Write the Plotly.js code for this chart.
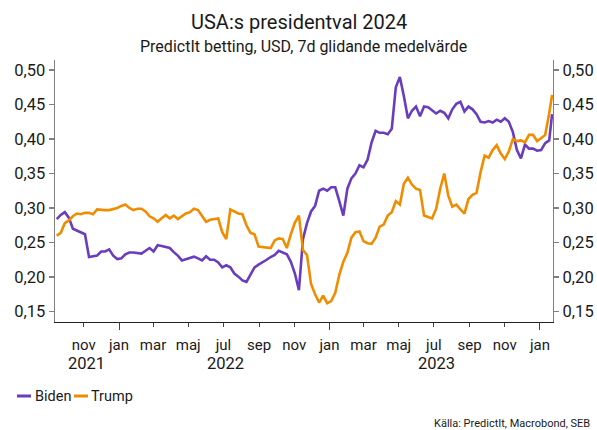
<!DOCTYPE html>
<html>
<head>
<meta charset="utf-8">
<script src="https://cdn.plot.ly/plotly-3.0.1.min.js"></script>
<style>
  html, body { margin: 0; padding: 0; background: #fff; }
  #chart { width: 597px; height: 430px; }
</style>
</head>
<body>
<div id="chart"></div>
<script>
// ---- Data (weekly readings of the 7-day moving average) ----
const firstDate = '2021-09-15';
const lastDate = '2024-01-22';

const biden = [
  0.284, 0.290, 0.294, 0.286, 0.270, 0.267, 0.265, 0.262, 0.229, 0.230,
  0.231, 0.237, 0.237, 0.240, 0.231, 0.226, 0.227, 0.233, 0.2355, 0.2356,
  0.235, 0.234, 0.238, 0.242, 0.237, 0.246, 0.245, 0.244, 0.242, 0.236,
  0.231, 0.224, 0.226, 0.228, 0.2295, 0.227, 0.224, 0.230, 0.225, 0.225,
  0.221, 0.214, 0.217, 0.214, 0.205, 0.2005, 0.195, 0.193, 0.204, 0.214,
  0.218, 0.221, 0.225, 0.229, 0.232, 0.238, 0.236, 0.233, 0.222, 0.205,
  0.181, 0.255, 0.278, 0.295, 0.303, 0.325, 0.328, 0.325, 0.330, 0.330,
  0.310, 0.289, 0.328, 0.343, 0.350, 0.362, 0.359, 0.370, 0.395, 0.412,
  0.409, 0.409, 0.407, 0.415, 0.475, 0.490, 0.462, 0.430, 0.441, 0.447,
  0.433, 0.447, 0.446, 0.441, 0.437, 0.441, 0.438, 0.430, 0.443, 0.451,
  0.454, 0.440, 0.447, 0.443, 0.436, 0.425, 0.424, 0.426, 0.424, 0.428,
  0.425, 0.430, 0.425, 0.410, 0.384, 0.372, 0.392, 0.386, 0.386, 0.383,
  0.384, 0.394, 0.398, 0.436
];

const trump = [
  0.260, 0.264, 0.278, 0.282, 0.288, 0.292, 0.291, 0.293, 0.293, 0.291,
  0.298, 0.297, 0.297, 0.297, 0.298, 0.300, 0.303, 0.305, 0.300, 0.297,
  0.299, 0.299, 0.295, 0.288, 0.285, 0.280, 0.285, 0.290, 0.285, 0.289,
  0.284, 0.288, 0.292, 0.294, 0.299, 0.297, 0.289, 0.280, 0.283, 0.284,
  0.285, 0.265, 0.255, 0.298, 0.295, 0.292, 0.291, 0.275, 0.264, 0.262,
  0.244, 0.243, 0.242, 0.242, 0.253, 0.256, 0.255, 0.242, 0.262, 0.279,
  0.289, 0.239, 0.232, 0.190, 0.175, 0.163, 0.173, 0.162, 0.165, 0.177,
  0.203, 0.222, 0.235, 0.257, 0.265, 0.266, 0.252, 0.249, 0.248, 0.257,
  0.273, 0.276, 0.289, 0.294, 0.310, 0.305, 0.335, 0.344, 0.334, 0.328,
  0.326, 0.289, 0.287, 0.285, 0.299, 0.328, 0.350, 0.318, 0.302, 0.305,
  0.298, 0.292, 0.313, 0.319, 0.322, 0.352, 0.376, 0.373, 0.384, 0.391,
  0.379, 0.371, 0.382, 0.400, 0.397, 0.398, 0.395, 0.406, 0.406, 0.397,
  0.401, 0.406, 0.437, 0.464
];

const monthTickVals = ['2021-11-01','2022-01-01','2022-03-01','2022-05-01','2022-07-01','2022-09-01',
                       '2022-11-01','2023-01-01','2023-03-01','2023-05-01','2023-07-01','2023-09-01',
                       '2023-11-01','2024-01-01'];
const monthTickText = ['nov','jan','mar','maj','jul','sep','nov','jan','mar','maj','jul','sep','nov','jan'];
const yearTickVals = ['2022-01-01','2023-01-01','2024-01-01'];
const yearLabels = ['2021','2022','2023'];
const yearLabelPos = ['2021-11-05','2022-07-05','2023-07-05'];
const yTickVals = [0.15, 0.20, 0.25, 0.30, 0.35, 0.40, 0.45, 0.50];

const seriesNames = ['Biden', 'Trump'];
const colors = ['#6A3DBE', '#F08C00'];

// weekly date axis for the readings (last reading on lastDate)
const dates = [];
{
  const d0 = new Date(firstDate + 'T00:00:00Z');
  for (let i = 0; i < biden.length - 1; i++) {
    const d = new Date(d0.getTime() + i * 7 * 86400000);
    dates.push(d.toISOString().slice(0, 10));
  }
  dates.push(lastDate);
}

// ---- Layout geometry ----
const W = 597, H = 430;
const M = {l: 55, r: 44, t: 60, b: 108};
const PW = W - M.l - M.r, PH = H - M.t - M.b;
const px = x => (x - M.l) / PW;
const py = y => (H - M.b - y) / PH;

const FONT = 'Roboto, "Noto Sans", Arial, sans-serif';
const TXT = '#1a1a1a';
const xRange = ['2021-09-12', '2024-01-23 14:00'];
const yRange = [0.1348, 0.5145];

const traces = [
  {x: dates, y: biden, name: seriesNames[0], type: 'scatter', mode: 'lines',
   line: {color: colors[0], width: 2.6}, xaxis: 'x', yaxis: 'y'},
  {x: dates, y: trump, name: seriesNames[1], type: 'scatter', mode: 'lines',
   line: {color: colors[1], width: 2.6}, xaxis: 'x2', yaxis: 'y2'}
];

const annotations = [
  {text: 'USA:s presidentval 2024', x: px(298.5), y: py(22), xref: 'paper', yref: 'paper',
   showarrow: false, xanchor: 'center', yanchor: 'middle', font: {family: FONT, size: 20, color: TXT}},
  {text: 'PredictIt betting, USD, 7d glidande medelvärde', x: px(303.5), y: py(47), xref: 'paper', yref: 'paper',
   showarrow: false, xanchor: 'center', yanchor: 'middle', font: {family: FONT, size: 16, color: TXT}},
  {text: 'Källa: PredictIt, Macrobond, SEB', x: px(592), y: py(424), xref: 'paper', yref: 'paper',
   showarrow: false, xanchor: 'right', yanchor: 'middle', font: {family: FONT, size: 11, color: TXT}},
  // legend texts
  {text: seriesNames[0], x: px(33), y: py(396), xref: 'paper', yref: 'paper',
   showarrow: false, xanchor: 'left', yanchor: 'middle', font: {family: FONT, size: 14.5, color: TXT}},
  {text: seriesNames[1], x: px(89), y: py(396), xref: 'paper', yref: 'paper',
   showarrow: false, xanchor: 'left', yanchor: 'middle', font: {family: FONT, size: 14.5, color: TXT}}
];
yearLabels.forEach((t, i) => annotations.push({
  text: t, x: yearLabelPos[i], y: py(363), xref: 'x', yref: 'paper', showarrow: false,
  xanchor: 'center', yanchor: 'middle', font: {family: FONT, size: 16.5, color: TXT}
}));

const shapes = [
  {type: 'line', xref: 'paper', yref: 'paper', x0: px(17), x1: px(31), y0: py(396), y1: py(396),
   line: {color: colors[0], width: 3}},
  {type: 'line', xref: 'paper', yref: 'paper', x0: px(74), x1: px(88), y0: py(396), y1: py(396),
   line: {color: colors[1], width: 3}}
];

const yAxisCommon = {
  range: yRange, tickmode: 'array', tickvals: yTickVals, tickformat: '.2f',
  showgrid: false, zeroline: false, showline: true, linecolor: '#7f7f7f', linewidth: 1.3,
  ticks: 'outside', ticklen: 5, tickcolor: '#7f7f7f', tickwidth: 1.2,
  tickfont: {family: FONT, size: 16.5, color: TXT}, fixedrange: true
};

const layout = {
  width: W, height: H,
  margin: M,
  paper_bgcolor: '#fff', plot_bgcolor: '#fff',
  separators: ', ',
  showlegend: false,
  font: {family: FONT, color: TXT},
  xaxis: {
    type: 'date', range: xRange, tickmode: 'array', tickvals: monthTickVals, ticktext: monthTickText,
    showgrid: false, zeroline: false, showline: true, linecolor: '#222', linewidth: 1.3,
    ticks: 'outside', ticklen: 4, tickcolor: '#444', tickwidth: 1,
    tickfont: {family: FONT, size: 15, color: TXT}, ticklabelstandoff: 5, fixedrange: true
  },
  xaxis2: {
    type: 'date', overlaying: 'x', matches: 'x', anchor: 'y', side: 'bottom',
    tickmode: 'array', tickvals: yearTickVals, showticklabels: false,
    showgrid: false, zeroline: false, showline: false,
    ticks: 'outside', ticklen: 7, tickcolor: '#444', tickwidth: 1, fixedrange: true
  },
  yaxis: Object.assign({side: 'left', anchor: 'x'}, yAxisCommon),
  yaxis2: Object.assign({side: 'right', overlaying: 'y', matches: 'y', anchor: 'x'}, yAxisCommon),
  annotations: annotations,
  shapes: shapes
};

Plotly.newPlot('chart', traces, layout, {displayModeBar: false, staticPlot: true});
</script>
</body>
</html>
